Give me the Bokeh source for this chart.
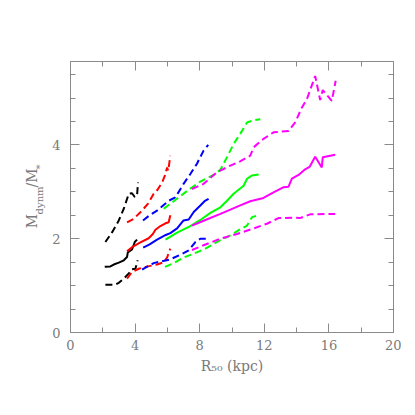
from bokeh.plotting import figure
from bokeh.models import Range1d, LinearAxis, FixedTicker
from bokeh.embed import file_html
from bokeh.resources import INLINE

# ---- data ----
bk_med_x = [2.12, 2.47, 2.68, 2.99, 3.30, 3.50, 3.55, 3.81, 3.98, 4.12]
bk_med_y = [1.40, 1.41, 1.45, 1.49, 1.54, 1.61, 1.71, 1.77, 1.93, 1.98]
bk_hi_x = [2.16, 2.58, 2.99, 3.30, 3.61, 3.81, 3.98, 4.12, 4.18]
bk_hi_y = [1.93, 2.14, 2.39, 2.64, 2.96, 2.97, 2.89, 2.92, 3.20]
bk_lo_x = [2.16, 2.78, 2.99, 3.30, 3.61, 3.81, 4.02, 4.16]
bk_lo_y = [1.02, 1.02, 1.06, 1.15, 1.26, 1.35, 1.36, 1.54]

rd_med_x = [3.50, 3.81, 4.33, 4.84, 5.10, 5.26, 5.57, 5.88, 6.08, 6.18]
rd_med_y = [1.73, 1.82, 1.92, 2.01, 2.10, 2.19, 2.27, 2.33, 2.35, 2.50]
rd_hi_x = [3.50, 3.90, 4.43, 4.80, 5.15, 5.40, 5.67, 5.85, 5.98, 6.05, 6.18]
rd_hi_y = [2.35, 2.42, 2.60, 2.75, 2.96, 3.05, 3.20, 3.35, 3.52, 3.45, 3.77]
rd_lo_x = [3.50, 3.81, 4.23, 4.64, 5.36, 5.77, 5.98, 6.18]
rd_lo_y = [1.15, 1.29, 1.36, 1.40, 1.45, 1.50, 1.60, 1.79]

bl_med_x = [4.50, 4.90, 5.36, 5.90, 6.18, 6.60, 7.00, 7.32, 7.63, 8.04, 8.30, 8.55]
bl_med_y = [1.81, 1.88, 1.98, 2.08, 2.12, 2.22, 2.39, 2.41, 2.57, 2.71, 2.80, 2.85]
bl_hi_x = [4.49, 4.90, 5.36, 6.08, 6.49, 7.00, 7.42, 7.83, 8.24, 8.53]
bl_hi_y = [2.39, 2.50, 2.60, 2.81, 2.88, 3.17, 3.38, 3.60, 3.88, 4.00]
bl_lo_x = [4.43, 5.15, 6.18, 6.80, 7.32, 7.73, 8.04, 8.45]
bl_lo_y = [1.34, 1.48, 1.56, 1.66, 1.75, 1.93, 2.00, 2.00]

gr_med_x = [5.88, 6.60, 7.42, 8.04, 8.66, 9.28, 9.69, 10.10, 10.72, 10.93, 11.24, 11.65]
gr_med_y = [1.98, 2.13, 2.27, 2.40, 2.55, 2.67, 2.81, 2.96, 3.13, 3.28, 3.35, 3.37]
gr_hi_x = [5.77, 6.39, 7.22, 8.04, 8.86, 9.28, 9.69, 10.10, 10.62, 10.93, 11.24, 11.75]
gr_hi_y = [2.64, 2.80, 3.02, 3.22, 3.36, 3.47, 3.74, 4.02, 4.30, 4.48, 4.52, 4.55]
gr_lo_x = [5.85, 6.39, 7.00, 7.63, 8.35, 8.86, 9.28, 9.90, 10.50, 10.93, 11.24, 11.65]
gr_lo_y = [1.40, 1.48, 1.60, 1.68, 1.79, 1.89, 1.97, 2.07, 2.20, 2.28, 2.46, 2.50]

mg_med_x = [7.52, 8.35, 9.28, 9.90, 10.51, 11.13, 11.95, 12.57, 13.20, 13.50, 13.71,
            14.12, 14.53, 14.80, 15.15, 15.56, 15.62, 16.39]
mg_med_y = [2.28, 2.40, 2.53, 2.62, 2.71, 2.80, 2.87, 2.99, 3.10, 3.11, 3.28,
            3.36, 3.48, 3.53, 3.75, 3.52, 3.74, 3.79]
mg_hi_x = [7.52, 8.24, 9.07, 9.90, 10.50, 11.13, 11.34, 11.95, 12.57, 13.50, 13.91,
           14.33, 14.64, 15.15, 15.46, 15.62, 16.18, 16.42]
mg_hi_y = [3.06, 3.17, 3.42, 3.56, 3.65, 3.77, 3.95, 4.13, 4.27, 4.30, 4.48,
           4.80, 4.98, 5.47, 4.96, 5.17, 4.94, 5.37]
mg_lo_x = [7.52, 8.24, 9.28, 10.30, 11.34, 12.16, 12.88, 13.81, 14.20, 14.84, 16.39]
mg_lo_y = [1.76, 1.86, 2.00, 2.10, 2.22, 2.32, 2.44, 2.45, 2.44, 2.52, 2.53]

x_ticks = [0, 4, 8, 12, 16, 20]
x_minor = [0, 2, 4, 6, 8, 10, 12, 14, 16, 18, 20]
y_ticks = [0, 2, 4, 6]
y_minor = [0, 0.5, 1, 1.5, 2, 2.5, 3, 3.5, 4, 4.5, 5, 5.5, 6]

x_title = "R₅₀ (kpc)"
# y title "M_dynm / M_*": main-size parts and subscript parts
y_title_main = {2.374: "M", 3.296: "/M"}
y_title_sub = {2.817: "dynm", 3.528: "*"}

GREY = "#8a8a8a"
LABEL_GREY = "#7a7a7a"
FONT = "DejaVu Serif"

p = figure(frame_width=323, frame_height=271, output_backend="svg",
           toolbar_location=None, x_range=Range1d(0, 20), y_range=Range1d(0, 5.78),
           min_border_left=70, min_border_top=61, min_border_right=8, min_border_bottom=70,
           background_fill_color="white", border_fill_color="white",
           x_axis_location=None, y_axis_location=None)
p.grid.visible = False
p.outline_line_color = GREY
p.outline_line_width = 1


def style_axis(ax, ticks, labels=True):
    ax.axis_line_color = GREY
    ax.major_tick_line_color = GREY
    ax.minor_tick_line_color = GREY
    ax.major_tick_in = 9
    ax.major_tick_out = 0
    ax.minor_tick_in = 5
    ax.minor_tick_out = 0
    ax.major_label_text_font = FONT
    ax.major_label_text_font_size = "13px"
    ax.major_label_text_color = LABEL_GREY
    if not labels:
        ax.major_label_overrides = {t: "" for t in ticks}
        ax.major_label_standoff = 0


for loc, dim in (("below", "x"), ("above", "x"), ("left", "y"), ("right", "y")):
    ticks, minor = (x_ticks, x_minor) if dim == "x" else (y_ticks, y_minor)
    ax = LinearAxis(ticker=FixedTicker(ticks=ticks, minor_ticks=minor))
    style_axis(ax, ticks, labels=loc in ("below", "left"))
    if loc == "below":
        ax.major_label_standoff = 7
        ax.axis_label = x_title
        ax.axis_label_text_font = FONT
        ax.axis_label_text_font_size = "14px"
        ax.axis_label_text_font_style = "normal"
        ax.axis_label_text_color = LABEL_GREY
        ax.axis_label_standoff = 5
    if loc == "left":
        ax.major_label_standoff = 10
    p.add_layout(ax, loc)


def title_axis(parts, size, standoff):
    ax = LinearAxis(ticker=FixedTicker(ticks=list(parts.keys()), minor_ticks=[]))
    ax.axis_line_color = None
    ax.major_tick_line_color = None
    ax.minor_tick_line_color = None
    ax.major_tick_in = 0
    ax.major_tick_out = 0
    ax.major_label_overrides = dict(parts)
    ax.major_label_orientation = "vertical"
    ax.major_label_text_font = FONT
    ax.major_label_text_font_size = size
    ax.major_label_text_color = LABEL_GREY
    ax.major_label_standoff = standoff
    p.add_layout(ax, "left")


title_axis(y_title_sub, "10px", 4)
title_axis(y_title_main, "14px", -9)

curves = [
    ("black", bk_med_x, bk_med_y, bk_hi_x, bk_hi_y, bk_lo_x, bk_lo_y),
    ("#ff0000", rd_med_x, rd_med_y, rd_hi_x, rd_hi_y, rd_lo_x, rd_lo_y),
    ("#0000ff", bl_med_x, bl_med_y, bl_hi_x, bl_hi_y, bl_lo_x, bl_lo_y),
    ("#00ff00", gr_med_x, gr_med_y, gr_hi_x, gr_hi_y, gr_lo_x, gr_lo_y),
    ("#ff00ff", mg_med_x, mg_med_y, mg_hi_x, mg_hi_y, mg_lo_x, mg_lo_y),
]
for c, mx, my, hx, hy, lx, ly in curves:
    p.line(mx, my, line_color=c, line_width=2)
    p.line(hx, hy, line_color=c, line_width=2, line_dash="7 4")
    p.line(lx, ly, line_color=c, line_width=2, line_dash="7 4")

open("out.html", "w").write(file_html(p, INLINE))
